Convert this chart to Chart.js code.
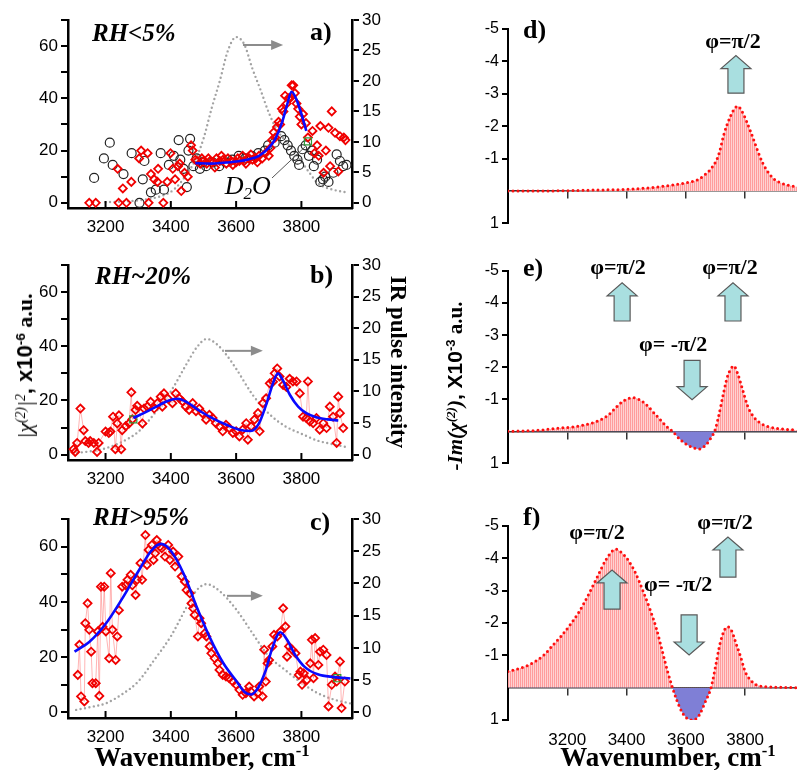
<!DOCTYPE html>
<html>
<head>
<meta charset="utf-8">
<script src="https://cdn.jsdelivr.net/npm/chart.js@4.4.0/dist/chart.umd.min.js"></script>
<style>
  body { margin: 0; width: 797px; height: 770px; overflow: hidden; position: relative; background: #fff; font-family: "Liberation Serif", serif; }
  canvas { position: absolute; }
  .t { position: absolute; white-space: nowrap; line-height: 1; color: #000; }
  .t sup { font-size: 0.62em; vertical-align: 0.55em; line-height: 0; }
  .rh { font: italic bold 25px "Liberation Serif"; transform: translateY(-50%); }
  .pl { font: bold 26px "Liberation Serif"; transform: translateY(-50%); }
  .wn { font: bold 27px "Liberation Serif"; transform: translate(-50%, -50%); }
</style>
</head>
<body>
<canvas id="ca" width="400" height="236" style="left:0;top:0"></canvas>
<canvas id="cb" width="400" height="246" style="left:0;top:240px"></canvas>
<canvas id="cc" width="400" height="256" style="left:0;top:490px"></canvas>
<canvas id="cd" width="337" height="236" style="left:460px;top:0"></canvas>
<canvas id="ce" width="337" height="236" style="left:460px;top:240px"></canvas>
<canvas id="cf" width="337" height="280" style="left:460px;top:490px"></canvas>

<div class="t rh" style="left:92px;top:33px">RH&lt;5%</div>
<div class="t rh" style="left:95px;top:276px">RH~20%</div>
<div class="t rh" style="left:93px;top:517px">RH&gt;95%</div>
<div class="t pl" style="left:310px;top:32px">a)</div>
<div class="t pl" style="left:310px;top:275px">b)</div>
<div class="t pl" style="left:310px;top:522px">c)</div>
<div class="t pl" style="left:523px;top:30px">d)</div>
<div class="t pl" style="left:523px;top:268px">e)</div>
<div class="t pl" style="left:523px;top:517px">f)</div>

<div class="t" style="left:25px;top:366px;transform:translate(-50%,-50%) rotate(-90deg);font-size:22px"><i style="font-family:'Liberation Serif'">|χ<sup>(2)</sup>|<sup>2</sup></i><b style="font-family:'Liberation Sans'">, x10<sup>-6</sup></b><b> a.u.</b></div>
<div class="t" style="left:398px;top:362px;transform:translate(-50%,-50%) rotate(90deg);font:bold 23px 'Liberation Serif'">IR pulse intensity</div>
<div class="t" style="left:455px;top:386px;transform:translate(-50%,-50%) rotate(-90deg);font-size:21px"><b><i>-Im(χ<sup>(2)</sup>)</i></b><b style="font-family:'Liberation Sans'">, X10<sup>-3</sup></b><b> a.u.</b></div>
<div class="t wn" style="left:202px;top:757px">Wavenumber, cm<sup>-1</sup></div>
<div class="t wn" style="left:668px;top:757px">Wavenumber, cm<sup>-1</sup></div>

<script>
// tick values
const xTicksLeft = [3200, 3400, 3600, 3800];
const yTicksLeft = [0, 10, 20, 30, 40, 50, 60, 70];
const yLabelsLeft = [0, 20, 40, 60];
const yTicksIR = [0, 5, 10, 15, 20, 25, 30];
const xTicksRight = [3200, 3400, 3600, 3800];
const yTicksRight = [-5, -4, -3, -2, -1, 1];

// panel a: RH<5%
const aRed = [[3150,0],[3170,0],[3237,13],[3240,0],[3253,5.5],[3264,0],[3279,8],[3303,17],[3309,20],[3329,19],[3332,0],[3339,11],[3349,9],[3359,8],[3361,13],[3377,0],[3389,8],[3399,19],[3406,13],[3413,9],[3422,14],[3427,15],[3432,4.5],[3442,11.5],[3452,10],[3462,22],[3467,20],[3475,16.5],[3480,16],[3490,15],[3495,17],[3500,16],[3510,15],[3515,17],[3520,16],[3530,15.5],[3535,13.5],[3540,17],[3550,16],[3555,18],[3560,16.5],[3570,15],[3575,17],[3585,16],[3590,14.5],[3600,15.5],[3605,17],[3610,16],[3620,18],[3625,16],[3630,15],[3640,17],[3645,18.5],[3650,16.5],[3660,17],[3665,15.5],[3670,18],[3680,17],[3690,19],[3700,18],[3705,21],[3710,24],[3715,27],[3720,25],[3725,29],[3730,31],[3735,30],[3740,36],[3745,35],[3750,41],[3755,38],[3760,40],[3765,40],[3770,45],[3775,45],[3780,42],[3785,38],[3790,36],[3795,33],[3800,30],[3805,34],[3814,30.5],[3820,25],[3834,27.5],[3840,19],[3848,22],[3853,18],[3858,29.4],[3868,11.5],[3875,20],[3883,28.7],[3888,14],[3893,35],[3903,26.8],[3913,12],[3918,25.5],[3930,25],[3935,24]];
const aD2O = [[3165,9.5],[3195,17],[3213,23],[3222,14.5],[3255,11],[3280,19],[3304,0],[3314,9],[3319,16],[3339,4],[3354,5],[3369,19],[3379,5],[3394,14.5],[3409,18],[3424,24],[3429,16.5],[3439,13],[3449,6],[3454,20],[3459,24.5],[3469,14],[3479,17],[3489,13],[3498,15.5],[3508,14],[3528,15.5],[3548,14],[3568,15.5],[3588,16.5],[3608,18],[3628,17],[3648,18],[3668,19],[3688,20],[3698,22],[3718,23],[3738,25.5],[3748,24],[3758,22],[3768,20],[3778,18],[3788,16.5],[3793,14.5],[3803,20.5],[3813,22],[3823,18],[3833,20],[3838,14],[3848,16.5],[3858,8],[3866,9],[3873,10],[3883,8],[3898,11.5],[3908,18.5],[3918,16],[3928,14],[3938,14.5]];
const aFit = [[3475,15.2],[3520,15],[3560,15.3],[3600,15.8],[3640,16.7],[3670,18],[3700,21],[3720,24.5],[3740,30.5],[3755,37],[3770,42.5],[3785,39.5],[3800,34],[3815,27.5]];
const aIR = [[3200,0.1],[3250,0.2],[3300,0.4],[3350,0.8],[3400,1.8],[3425,3],[3450,4.8],[3475,7],[3500,10.5],[3525,15.5],[3550,20],[3575,25],[3600,27.2],[3625,26],[3650,22],[3675,18.5],[3700,14.8],[3725,12],[3750,10.2],[3775,8.6],[3800,6.8],[3825,4.9],[3850,3.2],[3875,2.5],[3900,2.1],[3940,1.7]];
const aMark = [[3820,23.5]];

// panel b: RH~20%
const bRed = [[3102,2],[3107,1],[3113,4.3],[3123,17],[3133,9],[3138,5],[3148,4.3],[3153,5],[3164,4.3],[3174,1],[3179,4.3],[3200,8.5],[3210,8],[3215,8.5],[3223,14],[3230,2],[3236,11.5],[3241,14.5],[3248,2],[3251,9],[3262,10.5],[3272,11.5],[3279,23],[3282,13],[3292,16.5],[3297,18],[3313,11.5],[3318,17],[3328,17.7],[3338,19.5],[3349,17],[3359,19],[3369,21.4],[3374,17.7],[3379,22.6],[3390,20.8],[3405,19],[3415,22.6],[3426,20.8],[3436,19.6],[3446,17.7],[3456,16.5],[3467,19],[3477,16],[3487,17],[3497,15.3],[3508,12.9],[3518,14.7],[3528,13.5],[3538,11.6],[3549,10.4],[3559,8.6],[3569,11],[3579,9.8],[3590,8],[3600,8.6],[3610,6.7],[3620,9.2],[3631,11.6],[3636,5.5],[3646,10.4],[3656,12.9],[3667,15.3],[3672,8.6],[3682,19],[3692,20.8],[3703,26.3],[3713,26.9],[3718,30],[3726,31.8],[3733,28.8],[3744,25.7],[3754,25],[3764,28],[3774,27],[3785,27],[3795,22.6],[3805,14],[3815,13.5],[3820,27],[3826,12.2],[3836,11.6],[3846,13.5],[3856,9.2],[3867,11.6],[3877,9.8],[3887,17.7],[3897,14],[3908,4.3],[3913,21.4],[3918,15.3],[3928,9.8]];
const bFit = [[3285,13.5],[3320,15.5],[3360,18],[3390,19.8],[3420,20.6],[3450,19.3],[3490,16],[3530,13.3],[3570,11],[3610,9.2],[3645,8.7],[3670,11.5],[3695,19.5],[3712,26],[3728,30],[3745,27],[3765,22],[3790,17.7],[3815,15.3],[3845,13.8],[3880,13],[3913,12.6]];
const bIR = [[3100,0.2],[3150,0.5],[3200,1],[3250,2],[3300,3.6],[3350,6.5],[3400,10],[3450,14.5],[3480,17],[3510,18.3],[3540,17.5],[3570,15.8],[3600,13.6],[3650,9.5],[3700,6.5],[3750,4.5],[3800,3.3],[3850,2.2],[3900,1.6],[3945,1.1]];
const bMark = [[3285,13]];

// panel c: RH>95%
const cRed = [[3115,13.6],[3120,24.5],[3125,5.8],[3135,4],[3138,32.3],[3145,39.5],[3150,29.9],[3156,22],[3160,10.6],[3170,10.6],[3176,29.3],[3181,6],[3186,45.5],[3191,31],[3196,45.5],[3201,29.3],[3211,19.6],[3216,50.4],[3221,29.9],[3231,19],[3236,27.5],[3241,37],[3251,45.5],[3262,46],[3267,48],[3277,49.8],[3282,46],[3292,42.5],[3297,48],[3307,54],[3312,48],[3322,64.2],[3327,53.4],[3332,58.8],[3342,60.6],[3347,55.2],[3352,57.6],[3357,62.4],[3367,60],[3372,59.4],[3382,56.4],[3392,60.6],[3397,55.2],[3407,58.2],[3413,52.8],[3423,56.4],[3433,49.2],[3443,47.3],[3448,44.3],[3458,43.1],[3463,39.5],[3468,37.7],[3473,35.3],[3483,27.5],[3488,34.1],[3493,32.3],[3504,28.7],[3509,27.5],[3519,23.9],[3524,21.4],[3534,19.6],[3544,17.8],[3549,15.4],[3559,13.6],[3569,13],[3579,12.4],[3590,11.2],[3600,10],[3610,8.2],[3620,6.4],[3630,7],[3640,9.4],[3645,7.6],[3655,5.8],[3666,7],[3671,9.4],[3681,5.8],[3686,22.7],[3691,11.2],[3696,17.8],[3701,19],[3711,23.9],[3716,28.1],[3726,27.5],[3736,29.3],[3744,37.7],[3751,31.1],[3756,20.2],[3762,23.9],[3772,22.7],[3782,21.4],[3792,13.6],[3797,14.8],[3802,10],[3807,14.2],[3817,11.8],[3827,17.8],[3832,26.3],[3837,12.4],[3842,26.9],[3852,17.2],[3857,22],[3867,22.7],[3877,20.8],[3883,2.2],[3893,10],[3903,13],[3908,11.2],[3918,18.4],[3923,1.6],[3933,11.2]];
const cFit = [[3105,22],[3150,25.5],[3200,32],[3250,41],[3300,51],[3340,58.5],[3370,61],[3400,58.5],[3440,50],[3480,38],[3520,27],[3560,18],[3600,11.5],[3625,7.5],[3645,6.5],[3665,8.5],[3690,15],[3710,23],[3735,29],[3755,26.5],[3780,21],[3810,16.5],[3850,13.8],[3900,12.8],[3950,12.3]];
const cIR = [[3110,0.4],[3150,0.8],[3200,1.4],[3250,2.8],[3300,4.8],[3350,8.2],[3400,11.8],[3450,16.5],[3480,19],[3510,19.9],[3550,18.8],[3600,16],[3650,12.3],[3700,8.7],[3750,6.6],[3800,4.6],[3850,3],[3900,2],[3950,1.4]];
const cMark = [[3910,12.4]];

// right panels: -Im(chi2)
const dIm = [[3000,0],[3100,0],[3200,-0.01],[3300,-0.03],[3400,-0.05],[3450,-0.08],[3500,-0.12],[3550,-0.18],[3600,-0.25],[3640,-0.35],[3670,-0.55],[3690,-0.75],[3710,-1.1],[3730,-1.8],[3750,-2.3],[3765,-2.55],[3775,-2.62],[3790,-2.45],[3805,-2.15],[3820,-1.8],[3840,-1.3],[3860,-0.85],[3880,-0.55],[3900,-0.35],[3920,-0.25],[3950,-0.17],[3975,-0.13]];
const eIm = [[3000,0],[3100,-0.03],[3170,-0.1],[3230,-0.15],[3280,-0.25],[3310,-0.35],[3340,-0.52],[3370,-0.8],[3395,-0.98],[3420,-1.05],[3445,-0.98],[3470,-0.8],[3495,-0.55],[3515,-0.35],[3535,-0.15],[3555,0],[3580,0.25],[3610,0.45],[3645,0.55],[3670,0.4],[3685,0.2],[3697,0],[3710,-0.45],[3725,-1.1],[3740,-1.7],[3752,-1.95],[3762,-2.04],[3775,-1.8],[3790,-1.35],[3808,-0.8],[3825,-0.5],[3845,-0.3],[3870,-0.17],[3900,-0.1],[3940,-0.06],[3975,-0.04]];
const fIm = [[3000,-0.5],[3040,-0.6],[3080,-0.75],[3120,-1.0],[3150,-1.3],[3180,-1.6],[3210,-1.95],[3240,-2.35],[3270,-2.85],[3300,-3.4],[3330,-3.95],[3355,-4.25],[3365,-4.28],[3380,-4.2],[3405,-3.95],[3430,-3.55],[3455,-3.0],[3480,-2.4],[3500,-1.85],[3520,-1.15],[3540,-0.45],[3555,0],[3570,0.4],[3590,0.8],[3610,0.98],[3625,1.0],[3645,0.85],[3665,0.45],[3685,0],[3700,-0.65],[3715,-1.35],[3730,-1.78],[3742,-1.88],[3755,-1.75],[3770,-1.35],[3785,-0.95],[3800,-0.5],[3820,-0.22],[3840,-0.08],[3870,-0.03],[3920,-0.01],[3975,0]];

const xy = arr => arr.map(p => ({ x: p[0], y: p[1] }));
const plain = v => String(v);
const tickFont = { family: 'Liberation Sans', size: 17 };

// pink hatch for the fills
const hatch = (() => {
  const c = document.createElement('canvas');
  c.width = 2; c.height = 1;
  const g = c.getContext('2d');
  g.fillStyle = '#ff9c9c'; g.fillRect(0, 0, 1, 1);
  g.fillStyle = '#ffd2d2'; g.fillRect(1, 0, 1, 1);
  return g.createPattern(c, 'repeat');
})();

function blockArrow(ctx, cx, yb, yt) {
  const dir = yt < yb ? -1 : 1, hl = 13, sw = 8, hw = 15;
  const yh = yt - dir * hl;
  ctx.beginPath();
  ctx.moveTo(cx - sw, yb); ctx.lineTo(cx - sw, yh); ctx.lineTo(cx - hw, yh);
  ctx.lineTo(cx, yt); ctx.lineTo(cx + hw, yh); ctx.lineTo(cx + sw, yh);
  ctx.lineTo(cx + sw, yb); ctx.closePath();
  ctx.fillStyle = '#a9dfe0'; ctx.fill();
  ctx.strokeStyle = '#5a5a5a'; ctx.lineWidth = 1.2; ctx.stroke();
}

function notes(n) {
  return {
    id: 'notes',
    afterDatasetsDraw(chart) {
      const ctx = chart.ctx, xs = chart.scales.x, ys = chart.scales.y, area = chart.chartArea;
      ctx.save();
      if (n.ticksIn) {
        ctx.strokeStyle = '#000'; ctx.lineWidth = 2;
        n.ticksIn.forEach(v => {
          const px = xs.getPixelForValue(v);
          ctx.beginPath(); ctx.moveTo(px, area.bottom); ctx.lineTo(px, area.bottom - 7); ctx.stroke();
        });
      }
      (n.gray || []).forEach(g => {
        const x1 = xs.getPixelForValue(g[0]), x2 = xs.getPixelForValue(g[1]), y = ys.getPixelForValue(g[2]);
        ctx.strokeStyle = '#8c8c8c'; ctx.fillStyle = '#8c8c8c'; ctx.lineWidth = 2;
        ctx.beginPath(); ctx.moveTo(x1, y); ctx.lineTo(x2 - 8, y); ctx.stroke();
        ctx.beginPath(); ctx.moveTo(x2, y); ctx.lineTo(x2 - 12, y - 5); ctx.lineTo(x2 - 12, y + 5); ctx.closePath(); ctx.fill();
      });
      (n.lines || []).forEach(l => {
        ctx.strokeStyle = '#555'; ctx.lineWidth = 1;
        ctx.beginPath();
        ctx.moveTo(xs.getPixelForValue(l[0]), ys.getPixelForValue(l[1]));
        ctx.lineTo(xs.getPixelForValue(l[2]), ys.getPixelForValue(l[3]));
        ctx.stroke();
      });
      (n.blocks || []).forEach(b => blockArrow(ctx, xs.getPixelForValue(b[0]), ys.getPixelForValue(b[1]), ys.getPixelForValue(b[2])));
      (n.texts || []).forEach(t => {
        ctx.fillStyle = '#000'; ctx.font = t[3]; ctx.textAlign = 'center'; ctx.textBaseline = 'middle';
        ctx.fillText(t[2], xs.getPixelForValue(t[0]), ys.getPixelForValue(t[1]));
      });
      (n.subs || []).forEach(s => {
        // text with a subscript: [x, y, before, sub, after, size]
        const f = 'italic ' + s[5] + 'px "Liberation Serif"', fs = 'italic ' + Math.round(s[5] * 0.65) + 'px "Liberation Serif"';
        ctx.font = f; const w1 = ctx.measureText(s[2]).width, w3 = ctx.measureText(s[4]).width;
        ctx.font = fs; const w2 = ctx.measureText(s[3]).width;
        let x = xs.getPixelForValue(s[0]) - (w1 + w2 + w3) / 2; const y = ys.getPixelForValue(s[1]);
        ctx.fillStyle = '#000'; ctx.textAlign = 'left'; ctx.textBaseline = 'alphabetic';
        ctx.font = f; ctx.fillText(s[2], x, y + s[5] * 0.35); x += w1;
        ctx.font = fs; ctx.fillText(s[3], x, y + s[5] * 0.55); x += w2;
        ctx.font = f; ctx.fillText(s[4], x, y + s[5] * 0.35);
      });
      ctx.restore();
    }
  };
}

function leftChart(id, padTop, xH, sets, n) {
  return new Chart(document.getElementById(id), {
    type: 'line',
    data: { datasets: sets },
    options: {
      responsive: false, animation: false,
      layout: { padding: { top: padTop, left: 0, right: 0, bottom: 0 } },
      plugins: { legend: { display: false }, tooltip: { enabled: false } },
      scales: {
        x: {
          type: 'linear', min: 3085, max: 3955,
          afterFit: s => { s.height = xH; },
          afterBuildTicks: s => { s.ticks = xTicksLeft.map(v => ({ value: v })); },
          border: { color: '#000', width: 2.5 },
          grid: { drawOnChartArea: false, drawTicks: false },
          ticks: { padding: 9, color: '#000', font: tickFont, autoSkip: false, maxRotation: 0, callback: plain }
        },
        y: {
          min: -2, max: 70,
          afterFit: s => { s.width = 68; },
          afterBuildTicks: s => { s.ticks = yTicksLeft.map(v => ({ value: v })); },
          border: { color: '#000', width: 2.5 },
          grid: { drawOnChartArea: false, tickLength: 7, color: '#000', lineWidth: 2 },
          ticks: { padding: 3, color: '#000', font: tickFont, autoSkip: false, callback: v => yLabelsLeft.includes(v) ? String(v) : '' }
        },
        y2: {
          position: 'right', min: -2 * 30 / 70, max: 30,
          afterFit: s => { s.width = 48; },
          afterBuildTicks: s => { s.ticks = yTicksIR.map(v => ({ value: v })); },
          border: { color: '#000', width: 2.5 },
          grid: { drawOnChartArea: false, tickLength: 7, color: '#000', lineWidth: 2 },
          ticks: { padding: 3, color: '#000', font: tickFont, autoSkip: false, callback: plain }
        }
      }
    },
    plugins: [notes(n)]
  });
}

const fitSet = d => ({ data: xy(d), yAxisID: 'y', borderColor: '#0a0aff', borderWidth: 2.6, pointRadius: 0, cubicInterpolationMode: 'monotone' });
const markSet = d => ({ data: xy(d), yAxisID: 'y', showLine: false, pointStyle: 'rect', pointRadius: 5, pointBorderColor: '#2e9a3a', pointBackgroundColor: 'rgba(0,0,0,0)', pointBorderWidth: 1.2 });
const redSet = (d, joined) => ({ data: xy(d), yAxisID: 'y', showLine: joined, borderColor: 'rgba(255,120,120,0.55)', borderWidth: 1, pointStyle: 'rectRot', pointRadius: 4, pointBorderColor: '#f00000', pointBackgroundColor: 'rgba(0,0,0,0)', pointBorderWidth: 1.8 });
const irSet = d => ({ data: xy(d), yAxisID: 'y2', borderColor: '#a3a3a3', borderWidth: 2.4, borderDash: [0, 4.5], borderCapStyle: 'round', pointRadius: 0, cubicInterpolationMode: 'monotone' });

leftChart('ca', 20, 28, [
  fitSet(aFit), markSet(aMark), redSet(aRed, false),
  { data: xy(aD2O), yAxisID: 'y', showLine: false, pointStyle: 'circle', pointRadius: 4.5, pointBorderColor: '#222', pointBackgroundColor: 'rgba(0,0,0,0)', pointBorderWidth: 1.2 },
  irSet(aIR)
], { ticksIn: xTicksLeft, gray: [[3621, 3744, 60.4]], lines: [[3710, 9.5, 3811, 21.4]], subs: [[3636, 6.8, 'D', '2', 'O', 26]] });

leftChart('cb', 25, 26, [fitSet(bFit), markSet(bMark), redSet(bRed, true), irSet(bIR)],
  { ticksIn: xTicksLeft, gray: [[3566, 3682, 38.3]] });

leftChart('cc', 29, 28, [fitSet(cFit), markSet(cMark), redSet(cRed, true), irSet(cIR)],
  { ticksIn: xTicksLeft, gray: [[3572, 3682, 42.2]] });

const phiFont = 'bold 22px "Liberation Serif"';

function rightChart(id, padTop, padBottom, data, n, withLabels) {
  const scales = {
    x: {
      type: 'linear', min: 3000, max: 3975, position: { y: 0 },
      afterBuildTicks: s => { s.ticks = xTicksRight.map(v => ({ value: v })); },
      border: { color: '#333', width: 1.5 },
      grid: { drawOnChartArea: false, tickLength: 7, color: '#333', lineWidth: 1.5 },
      ticks: { display: false }
    },
    y: {
      reverse: true, min: -5, max: 1,
      afterFit: s => { s.width = 48; },
      afterBuildTicks: s => { s.ticks = yTicksRight.map(v => ({ value: v })); },
      border: { color: '#000', width: 2 },
      grid: { drawOnChartArea: false, tickLength: 6, color: '#000', lineWidth: 2 },
      ticks: { padding: 3, color: '#000', font: { family: 'Liberation Sans', size: 16 }, autoSkip: false, callback: plain }
    }
  };
  if (withLabels) {
    scales.xb = {
      type: 'linear', position: 'bottom', min: 3000, max: 3975,
      afterFit: s => { s.height = 50; },
      afterBuildTicks: s => { s.ticks = xTicksRight.map(v => ({ value: v })); },
      border: { display: false },
      grid: { display: false },
      ticks: { padding: 2, color: '#000', font: tickFont, autoSkip: false, maxRotation: 0, callback: plain }
    };
  }
  return new Chart(document.getElementById(id), {
    type: 'line',
    data: { datasets: [{
      data: xy(data), borderColor: '#ff1010', borderWidth: 3, borderDash: [0, 5], borderCapStyle: 'round',
      pointRadius: 0, cubicInterpolationMode: 'monotone',
      fill: { target: 'origin', above: hatch, below: '#7f7fd6' }
    }] },
    options: {
      responsive: false, animation: false,
      layout: { padding: { top: padTop, bottom: padBottom, left: 0, right: 0 } },
      plugins: { legend: { display: false }, tooltip: { enabled: false } },
      scales
    },
    plugins: [notes(n)]
  });
}

rightChart('cd', 29, 10, dIm, {
  blocks: [[3769, -3.02, -4.18]],
  texts: [[3759, -4.6, 'φ=π/2', phiFont]]
}, false);

rightChart('ce', 31, 9, eIm, {
  blocks: [[3385, -3.44, -4.63], [3759, -3.44, -4.63], [3621, -2.21, -0.99]],
  texts: [[3371, -5.09, 'φ=π/2', phiFont], [3749, -5.09, 'φ=π/2', phiFont], [3557, -2.67, 'φ= -π/2', phiFont]]
}, false);

rightChart('cf', 36, 0, fIm, {
  blocks: [[3351, -2.43, -3.64], [3611, -2.25, -1.01], [3742, -3.42, -4.66]],
  texts: [[3300, -4.78, 'φ=π/2', phiFont], [3574, -3.18, 'φ= -π/2', phiFont], [3732, -5.09, 'φ=π/2', phiFont]]
}, true);
</script>
</body>
</html>
